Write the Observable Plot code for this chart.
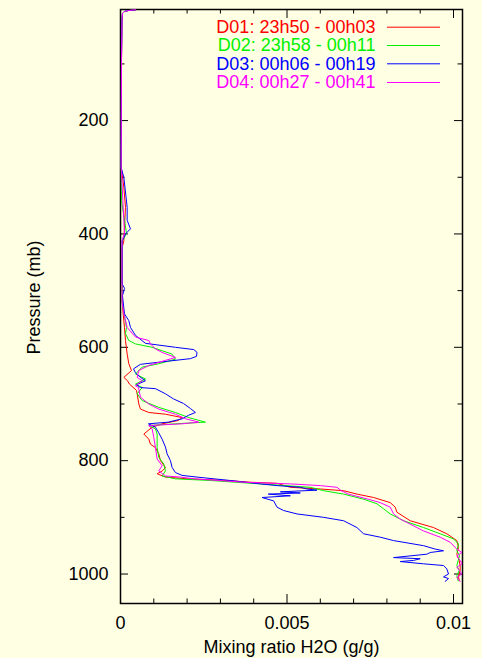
<!DOCTYPE html>
<html>
<head>
<meta charset="utf-8">
<script src="https://cdn.jsdelivr.net/npm/d3@7"></script>
<script src="https://cdn.jsdelivr.net/npm/@observablehq/plot@0.6"></script>
<style>
html, body { margin: 0; padding: 0; background: #ffffe3; }
#chart svg { display: block; }
</style>
</head>
<body>
<div id="chart"></div>
<script>
// ---- Data (pressure mb, mixing ratio g/g) ----
const seriesNames = ["D01: 23h50 - 00h03", "D02: 23h58 - 00h11", "D03: 00h06 - 00h19", "D04: 00h27 - 00h41"];
const seriesColors = ["#ff0000", "#00f000", "#0000ff", "#ff00ff"];

const d01 = [[4.9,0.00045],[5.8,0.00024],[7.6,0.00012],[11,0.00006],[23,0.000045],[94,0.00003],[200,0.000024],[281,0.00002],[318,0.0001],[353,0.00015],[388,0.00012],[412,0.0001],[424,0.00005],[518,0.00005],[541,0.00008],[565,0.00012],[588,0.00015],[612,0.0002],[629,0.00025],[641,0.00033],[653,0.0001],[659,0.00021],[665,0.00027],[676,0.00048],[682,0.0005],[700,0.00055],[709,0.0006],[715,0.00085],[718,0.00135],[724,0.00185],[729,0.00174],[735,0.00125],[741,0.00095],[753,0.0007],[762,0.00085],[771,0.0009],[777,0.00105],[788,0.00115],[800,0.0012],[812,0.00135],[818,0.00126],[823,0.0011],[829,0.00135],[832,0.002],[835,0.0032],[838,0.0039],[840,0.0047],[847,0.0051],[850,0.006],[853,0.0067],[859,0.0071],[865,0.0076],[874,0.0081],[882,0.00825],[891,0.0083],[906,0.0087],[918,0.0094],[929,0.0098],[941,0.0101],[953,0.01015],[965,0.0101],[976,0.01017],[985,0.0102],[994,0.0102],[1003,0.01015],[1012,0.01017]];

const d02 = [[4.9,0.00043],[5.8,0.00023],[7.6,0.00011],[11,0.00006],[23,0.00004],[94,0.00003],[200,0.000024],[281,0.00002],[341,0.00003],[399,0.00018],[412,0.00006],[518,0.000045],[565,0.00018],[576,0.00015],[588,0.00025],[594,0.00045],[600,0.00095],[606,0.00125],[612,0.00155],[621,0.00165],[629,0.00115],[635,0.00065],[647,0.00045],[656,0.00075],[665,0.00045],[671,0.00065],[682,0.0005],[694,0.00065],[706,0.00115],[715,0.00165],[724,0.00205],[732,0.00255],[735,0.00165],[738,0.00085],[744,0.00105],[753,0.0011],[777,0.0011],[794,0.00115],[806,0.0013],[818,0.00135],[827,0.00125],[832,0.00165],[835,0.0027],[841,0.0042],[847,0.0057],[853,0.0061],[859,0.0067],[868,0.0073],[876,0.0077],[885,0.0079],[894,0.0081],[906,0.0085],[918,0.0091],[929,0.0096],[938,0.01],[947,0.01015],[959,0.0101],[968,0.01018],[976,0.01014],[985,0.0101],[994,0.01017],[1003,0.0101],[1012,0.01014]];

const d03 = [[4.9,0.00044],[5.8,0.00023],[7.6,0.00012],[11,0.00006],[23,0.000045],[94,0.00003],[200,0.000024],[282,0.000015],[300,0.0001],[353,0.0002],[376,0.0002],[391,0.0003],[400,0.00015],[412,0.00005],[488,0.00005],[496,0.00012],[509,0.00006],[541,0.00012],[553,0.00025],[565,0.0003],[579,0.00045],[593,0.00075],[600,0.00165],[604,0.0022],[609,0.0023],[616,0.00228],[620,0.0021],[626,0.0012],[630,0.0006],[638,0.00039],[645,0.00045],[653,0.0006],[659,0.00075],[666,0.00048],[671,0.0006],[673,0.00105],[682,0.00135],[691,0.00159],[699,0.00189],[708,0.0021],[715,0.00225],[720,0.00204],[726,0.00186],[732,0.00144],[735,0.00084],[741,0.00105],[750,0.00114],[762,0.00125],[776,0.00135],[788,0.0014],[800,0.0015],[812,0.00155],[821,0.00165],[826,0.00185],[829,0.0023],[835,0.0033],[841,0.0042],[844,0.0047],[847,0.0054],[850,0.0056],[852,0.0059],[855,0.0048],[857,0.0054],[859,0.00444],[862,0.0051],[865,0.00425],[871,0.0046],[882,0.0047],[888,0.0049],[894,0.0053],[900,0.0061],[906,0.0067],[918,0.0071],[929,0.0073],[935,0.0078],[941,0.0082],[950,0.0091],[956,0.00945],[959,0.0097],[962,0.0093],[965,0.0092],[971,0.0082],[973,0.009],[976,0.0088],[978,0.0084],[982,0.0091],[985,0.0097],[991,0.0098],[1000,0.00985],[1005,0.0097],[1008,0.00985],[1013,0.00975]];

const d04 = [[4.5,0.00045],[5.8,0.00024],[7.6,0.00012],[11,0.00006],[23,0.000045],[94,0.00003],[200,0.000024],[281,0.00002],[399,0.00012],[412,0.000045],[518,0.000045],[541,0.0001],[565,0.0002],[582,0.00045],[588,0.00085],[594,0.0009],[603,0.00105],[609,0.00125],[618,0.00165],[623,0.00135],[632,0.00085],[641,0.00055],[653,0.0005],[659,0.00065],[668,0.00045],[671,0.00054],[688,0.0006],[700,0.00085],[709,0.00115],[718,0.00165],[726,0.00195],[732,0.00235],[735,0.00185],[738,0.00085],[744,0.00095],[759,0.001],[777,0.00105],[797,0.0011],[809,0.00125],[818,0.00115],[827,0.00135],[829,0.0018],[832,0.0022],[838,0.0037],[841,0.0051],[844,0.006],[847,0.0065],[853,0.00663],[859,0.00684],[868,0.00744],[874,0.0078],[882,0.0081],[894,0.0082],[903,0.0084],[912,0.0087],[924,0.0091],[935,0.0096],[944,0.0099],[956,0.0101],[962,0.01025],[968,0.0101],[976,0.0102],[982,0.01025],[988,0.0101],[994,0.01018],[1000,0.01025],[1006,0.0101],[1013,0.0102]];

const xTickLabels = [0, 0.005, 0.01];
const xMinorTicks = [0.001, 0.002, 0.003, 0.004, 0.006, 0.007, 0.008, 0.009];
const yTickLabels = [200, 400, 600, 800, 1000];
const yMinorTicks = [100, 300, 500, 700, 900];
const xTitle = "Mixing ratio H2O (g/g)";
const yTitle = "Pressure (mb)";

// ---- Layout ----
const W = 482, H = 658, mL = 120, mR = 20, mT = 9, mB = 55;
const innerW = W - mL - mR, innerH = H - mT - mB;
const xDomain = [0, 0.01027], yDomain = [4, 1052];
const xS = d3.scaleLinear(xDomain, [mL, W - mR]);
const yS = d3.scaleLinear(yDomain, [mT, H - mB]);
const font = "'Liberation Sans', Arial, Helvetica, sans-serif";
const ink = "#000";

const allSeries = [d01, d02, d03, d04];
const rows = allSeries.flatMap((s, i) => s.map(([p, w]) => ({p, w, name: seriesNames[i]})));

const legendRowsPx = [26.7, 45, 63.3, 82];
const legend = seriesNames.map((name, i) => ({name, color: seriesColors[i], y: yS.invert(legendRowsPx[i])}));

const marks = [
  Plot.frame({stroke: ink, strokeWidth: 1.5}),
  // bottom ticks
  Plot.tickX(xMinorTicks, {x: d => d, insetTop: innerH - 4.5, stroke: ink}),
  Plot.tickX(xTickLabels, {x: d => d, insetTop: innerH - 9, stroke: ink}),
  // top ticks
  Plot.tickX(xMinorTicks, {x: d => d, insetBottom: innerH - 4.5, stroke: ink}),
  Plot.tickX(xTickLabels, {x: d => d, insetBottom: innerH - 9, stroke: ink}),
  // left ticks
  Plot.tickY(yMinorTicks, {y: d => d, insetRight: innerW - 4.5, stroke: ink}),
  Plot.tickY(yTickLabels, {y: d => d, insetRight: innerW - 8, stroke: ink}),
  // right ticks
  Plot.tickY(yMinorTicks, {y: d => d, insetLeft: innerW - 4.5, stroke: ink}),
  Plot.tickY(yTickLabels, {y: d => d, insetLeft: innerW - 8, stroke: ink}),
  Plot.axisX(xTickLabels, {tickSize: 0, tickPadding: 13, tickFormat: d => String(d), label: null, fontSize: 18, fill: ink}),
  Plot.axisY(yTickLabels, {tickSize: 0, tickPadding: 12, tickFormat: d => String(d), label: null, fontSize: 18, fill: ink}),
  Plot.text([xTitle], {x: () => xS.invert(291), y: () => yS.invert(646.5), text: d => d, fontSize: 18, fill: ink, clip: false}),
  Plot.text([yTitle], {x: () => xS.invert(34), y: () => yS.invert(297), text: d => d, rotate: -90, fontSize: 18, fill: ink, clip: false}),
  Plot.line(rows, {x: "w", y: "p", z: "name", stroke: "name", strokeWidth: 1}),
  Plot.text(legend, {x: () => xS.invert(375), y: "y", text: "name", fill: "color", textAnchor: "end", fontSize: 18}),
  Plot.ruleY(legend, {y: "y", x1: () => xS.invert(387), x2: () => xS.invert(440), stroke: "color", strokeWidth: 1})
];

const chart = Plot.plot({
  width: W, height: H,
  marginLeft: mL, marginRight: mR, marginTop: mT, marginBottom: mB,
  style: {background: "#ffffe3", fontFamily: font, fontSize: "18px", overflow: "visible"},
  x: {domain: xDomain},
  y: {domain: yDomain, reverse: true},
  color: {domain: seriesNames, range: seriesColors},
  marks
});
document.getElementById("chart").appendChild(chart);
</script>
</body>
</html>
